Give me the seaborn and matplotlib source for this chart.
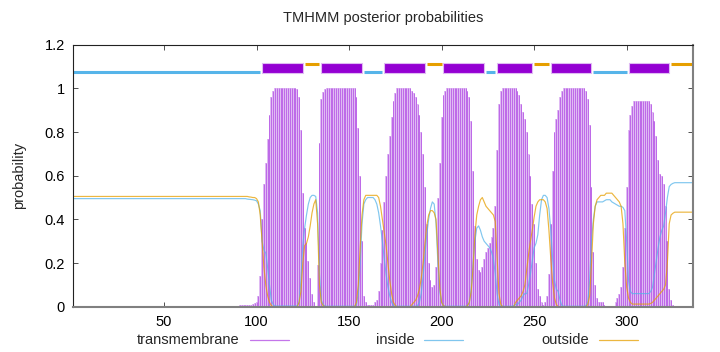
import numpy as np
import pandas as pd
import matplotlib.pyplot as plt
import seaborn as sns

# posterior probabilities per residue (1..336)
tm_prob = (
    [0.0] * 79 + [0.003] * 11 + [0.008] * 7
    + [0.012, 0.015, 0.02, 0.05, 0.14, 0.4, 0.56, 0.66, 0.77, 0.88, 0.96, 0.99]
    + [1.0] * 12
    + [0.995, 0.96, 0.81, 0.52, 0.36, 0.29, 0.21, 0.13, 0.06, 0.02, 0.005, 0.19,
       0.75, 0.95, 0.985, 0.997]
    + [1.0] * 16
    + [0.96, 0.82, 0.6, 0.3, 0.05, 0.02, 0.01, 0.01, 0.01, 0.01, 0.02, 0.03,
       0.07, 0.2, 0.35, 0.48, 0.6, 0.7, 0.78, 0.87, 0.94, 0.98]
    + [1.0] * 8
    + [0.99, 0.98, 0.96, 0.93, 0.88, 0.8, 0.7, 0.55, 0.38, 0.2, 0.12, 0.09,
       0.1, 0.18, 0.5, 0.66, 0.87, 0.97, 0.99]
    + [1.0] * 11
    + [0.99, 0.96, 0.85, 0.62, 0.37, 0.22, 0.17, 0.16, 0.18, 0.22, 0.25, 0.27,
       0.29, 0.32, 0.36, 0.46, 0.72, 0.93, 0.99]
    + [1.0] * 8
    + [0.99, 0.97, 0.93, 0.89, 0.86, 0.8, 0.7, 0.6, 0.47, 0.38, 0.2, 0.08,
       0.05, 0.02, 0.01, 0.02, 0.05, 0.15, 0.38, 0.62, 0.8, 0.86, 0.9, 0.96, 0.99]
    + [1.0] * 12
    + [0.99, 0.95, 0.83, 0.55, 0.25, 0.1, 0.04, 0.02, 0.02, 0.02, 0.01]
    + [0.0] * 5
    + [0.02, 0.04, 0.06, 0.09, 0.18, 0.36, 0.55, 0.81, 0.88, 0.92, 0.94]
    + [0.943] * 8
    + [0.93, 0.89, 0.85, 0.78, 0.67, 0.61, 0.6, 0.56, 0.46, 0.3, 0.08, 0.03, 0.01]
    + [0.0] * 11
)

inside_prob = (
    [0.495] * 94
    + [0.493, 0.492, 0.491, 0.49, 0.488, 0.485, 0.47, 0.44, 0.3, 0.26, 0.245,
       0.18, 0.1, 0.03, 0.01]
    + [0.003] * 12
    + [0.005, 0.02, 0.12, 0.28, 0.36, 0.42, 0.47, 0.5, 0.51, 0.51, 0.505, 0.43,
       0.15, 0.03, 0.01, 0.003]
    + [0.002] * 16
    + [0.01, 0.06, 0.2, 0.38, 0.47, 0.49, 0.5, 0.5, 0.5, 0.5, 0.49, 0.47, 0.43,
       0.37, 0.3, 0.22, 0.15, 0.09, 0.05, 0.02, 0.005]
    + [0.002] * 12
    + [0.005, 0.02, 0.06, 0.14, 0.24, 0.33, 0.4, 0.45, 0.48, 0.47, 0.38, 0.2,
       0.07, 0.02, 0.005]
    + [0.002] * 12
    + [0.005, 0.02, 0.08, 0.2, 0.3, 0.36, 0.37, 0.35, 0.32, 0.3, 0.29, 0.28,
       0.27, 0.25, 0.22, 0.15, 0.06, 0.01]
    + [0.002] * 7
    + [0.005, 0.01, 0.01, 0.02, 0.03, 0.05, 0.06, 0.06, 0.1, 0.15, 0.21, 0.27,
       0.29, 0.33, 0.42, 0.49, 0.51, 0.51, 0.5, 0.45, 0.35, 0.22, 0.12, 0.08,
       0.07, 0.03, 0.005]
    + [0.002] * 12
    + [0.005, 0.02, 0.12, 0.3, 0.4, 0.46, 0.48, 0.48, 0.48, 0.48, 0.485, 0.49,
       0.49, 0.49, 0.48, 0.475, 0.47, 0.465, 0.46, 0.46, 0.455, 0.44, 0.3, 0.12,
       0.07]
    + [0.06] * 10
    + [0.07, 0.09, 0.15, 0.21, 0.27, 0.32, 0.35, 0.37, 0.43, 0.5, 0.55, 0.56, 0.565]
    + [0.568] * 11
)

outside_prob = (
    [0.505] * 95
    + [0.503, 0.502, 0.5, 0.5, 0.495, 0.48, 0.42, 0.3, 0.18, 0.1, 0.05, 0.02, 0.005]
    + [0.0] * 14
    + [0.02, 0.07, 0.2, 0.28, 0.29, 0.32, 0.37, 0.43, 0.47, 0.49, 0.38, 0.1,
       0.02, 0.005]
    + [0.0] * 17
    + [0.02, 0.1, 0.27, 0.42, 0.49, 0.51, 0.51, 0.51, 0.51, 0.51, 0.51, 0.51,
       0.5, 0.46, 0.4, 0.34, 0.28, 0.2, 0.12, 0.06, 0.02, 0.005]
    + [0.0] * 8
    + [0.01, 0.02, 0.03, 0.05, 0.08, 0.13, 0.2, 0.29, 0.37, 0.42, 0.44, 0.44,
       0.43, 0.4, 0.24, 0.09, 0.02, 0.005]
    + [0.0] * 12
    + [0.005, 0.02, 0.07, 0.18, 0.33, 0.42, 0.46, 0.49, 0.5, 0.48, 0.46, 0.45,
       0.44, 0.43, 0.42, 0.39, 0.22, 0.06, 0.01]
    + [0.0] * 7
    + [0.02, 0.03, 0.04, 0.05, 0.07, 0.1, 0.17, 0.24, 0.3, 0.35, 0.41, 0.46,
       0.48, 0.49, 0.49, 0.49, 0.48, 0.45, 0.35, 0.22, 0.11, 0.04, 0.01]
    + [0.0] * 16
    + [0.01, 0.05, 0.2, 0.38, 0.46, 0.49, 0.5, 0.51, 0.51, 0.51, 0.52, 0.52,
       0.52, 0.52, 0.51, 0.5, 0.49, 0.48, 0.46, 0.38, 0.2, 0.09, 0.04, 0.02, 0.012]
    + [0.012] * 9
    + [0.015, 0.02, 0.03, 0.04, 0.05, 0.06, 0.07, 0.08, 0.1, 0.2, 0.38, 0.42, 0.428]
    + [0.433] * 11
)

# predicted topology
seg_start = [1, 103, 126, 135, 158, 169, 192, 201, 224, 230, 250, 259, 282, 301, 324]
seg_end = [102, 125, 134, 157, 168, 191, 200, 223, 229, 249, 258, 281, 300, 323, 336]
seg_type = ["inside", "TMhelix", "outside", "TMhelix", "inside", "TMhelix", "outside",
            "TMhelix", "inside", "TMhelix", "outside", "TMhelix", "inside", "TMhelix",
            "outside"]

x_ticks = [50, 100, 150, 200, 250, 300]
y_ticks = [0, 0.2, 0.4, 0.6, 0.8, 1.0, 1.2]
y_tick_labels = ["0", "0.2", "0.4", "0.6", "0.8", "1", "1.2"]

assert len(tm_prob) == len(inside_prob) == len(outside_prob) == 336

df = pd.DataFrame({
    "residue": np.arange(1, len(tm_prob) + 1),
    "transmembrane": tm_prob,
    "inside": inside_prob,
    "outside": outside_prob,
})

PURPLE = "#9400d3"
TM_LINE = "#b048e4"
TM_FILL = "#dfbaf3"
BLUE = "#56b4e9"
ORANGE = "#e69f00"

sns.set_theme(style="white")
plt.rcParams["font.family"] = ["Liberation Sans", "DejaVu Sans"]

fig = plt.figure(figsize=(7.2, 3.52), dpi=100)
ax = fig.add_axes([0.1018, 0.1287, 0.8611, 0.7443])

# transmembrane impulses
ax.bar(df["residue"], df["transmembrane"], width=1.0, color=TM_FILL, linewidth=0)
ax.vlines(df["residue"], 0, df["transmembrane"], color=TM_LINE, linewidth=0.5)

sns.lineplot(data=df, x="residue", y="inside", ax=ax, color=BLUE, linewidth=0.85, alpha=0.75)
sns.lineplot(data=df, x="residue", y="outside", ax=ax, color=ORANGE, linewidth=0.85, alpha=0.75)

# topology track on top
for s, e, t in zip(seg_start, seg_end, seg_type):
    if t == "TMhelix":
        ax.bar((s + e) / 2, 0.043, bottom=1.071, width=e - s, color=PURPLE,
               edgecolor=TM_FILL, linewidth=0.8)
    elif t == "inside":
        ax.hlines(1.073, s, e, color=BLUE, linewidth=2.2)
    else:
        ax.hlines(1.113, s, e, color=ORANGE, linewidth=2.2)

ax.set_xlim(1, 336)
ax.set_ylim(0, 1.2)
ax.set_xticks(x_ticks)
ax.set_yticks(y_ticks)
ax.set_yticklabels(y_tick_labels)
ax.tick_params(direction="in", length=3.5, width=0.6, color="#333333",
               top=True, right=True, bottom=True, left=True,
               labelsize=10.5, pad=6, labelcolor="black")
for side in ["left", "top"]:
    ax.spines[side].set_color("#222222")
    ax.spines[side].set_linewidth(0.8)
for side in ["right", "bottom"]:
    ax.spines[side].set_color("#808080")
    ax.spines[side].set_linewidth(1.5)

ax.set_xlabel("")
ax.set_ylabel("probability", fontsize=10.5, labelpad=13)
fig.text(0.532, 0.948, "TMHMM posterior probabilities", ha="center", va="center",
         fontsize=10.5)

# key below the plot, gnuplot style: label then sample line
key_labels = ["transmembrane", "inside", "outside"]
key_colors = [TM_LINE, BLUE, ORANGE]
key_text_end = [239.6, 414.3, 589.0]
for lab, col, xe in zip(key_labels, key_colors, key_text_end):
    fig.text(xe / 720, 1 - 340 / 352, lab, ha="right", va="center", fontsize=10.5)
    fig.add_artist(plt.Line2D([(xe + 10) / 720, (xe + 49) / 720],
                              [1 - 340 / 352, 1 - 340 / 352],
                              color=col, linewidth=0.9, alpha=0.75))

fig.savefig("out.png", dpi=100)
